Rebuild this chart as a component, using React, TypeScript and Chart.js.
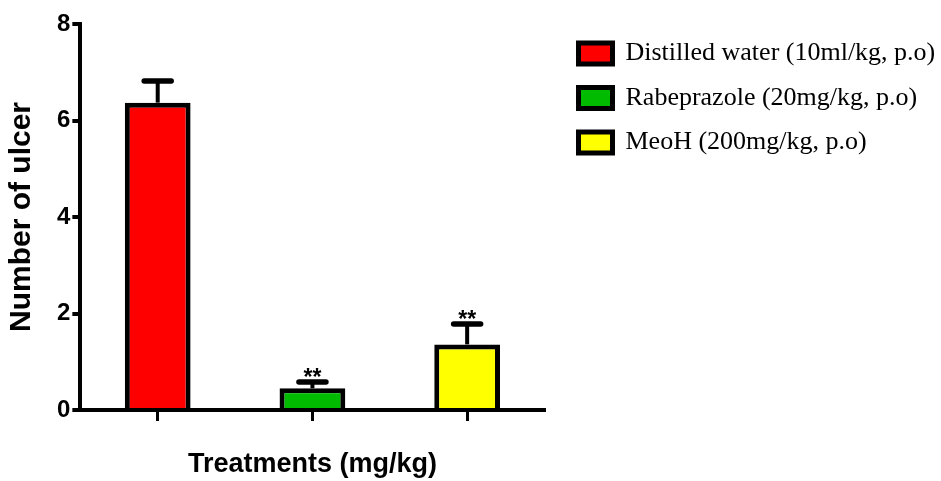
import React, { useEffect, useRef } from "react";
import { Chart, registerables } from "chart.js";

Chart.register(...registerables);

// ---- data ----
const categories = [
  "Distilled water (10ml/kg, p.o)",
  "Rabeprazole (20mg/kg, p.o)",
  "MeoH (200mg/kg, p.o)",
];
const ulcerMeans = [6.37, 0.45, 1.36];
const ulcerSem = [0.45, 0.13, 0.42];
const significance = ["", "**", "**"];
const barColors = ["#ff0000", "#00bb00", "#ffff00"];
const yTicks = [0, 2, 4, 6, 8];
const xTitle = "Treatments (mg/kg)";
const yTitle = "Number of ulcer";

const SANS = '"Liberation Sans", Arial, sans-serif';
const SERIF = '"Liberation Serif", "Times New Roman", serif';

const errorBarPlugin = {
  id: "errorBars",
  afterDatasetsDraw(chart: any) {
    const ctx = chart.ctx;
    const meta = chart.getDatasetMeta(0);
    const yScale = chart.scales.y;
    ctx.save();
    ctx.strokeStyle = "#000";
    ctx.fillStyle = "#000";
    meta.data.forEach((bar: any, i: number) => {
      const x = bar.x;
      const yBar = yScale.getPixelForValue(ulcerMeans[i]);
      const yTop = yScale.getPixelForValue(ulcerMeans[i] + ulcerSem[i]);
      ctx.lineWidth = 4;
      ctx.lineCap = "butt";
      ctx.beginPath();
      ctx.moveTo(x, yBar);
      ctx.lineTo(x, yTop);
      ctx.stroke();
      ctx.lineWidth = 5.5;
      ctx.lineCap = "round";
      ctx.beginPath();
      ctx.moveTo(x - 13.5, yTop);
      ctx.lineTo(x + 13.5, yTop);
      ctx.stroke();
      if (significance[i]) {
        ctx.font = `bold 23px ${SANS}`;
        ctx.textAlign = "center";
        ctx.textBaseline = "alphabetic";
        ctx.fillText(significance[i], x, yTop + 3);
      }
    });
    ctx.restore();
  },
};

export default function App() {
  const canvasRef = useRef<HTMLCanvasElement | null>(null);

  useEffect(() => {
    document.body.style.margin = "0";
    const canvas = canvasRef.current;
    if (!canvas) return;
    const chart = new Chart(canvas, {
      type: "bar",
      data: {
        labels: categories,
        datasets: [
          {
            data: ulcerMeans,
            backgroundColor: barColors,
            borderColor: "#000",
            borderWidth: 5,
            borderSkipped: "start",
            barPercentage: 0.425,
            categoryPercentage: 1,
            yAxisID: "y",
          },
        ],
      },
      options: {
        responsive: false,
        animation: false,
        devicePixelRatio: 1,
        layout: { padding: { top: 22, left: 0, right: 0, bottom: 0 } },
        plugins: {
          title: {
            display: true,
            text: "",
            position: "top",
            fullSize: false,
            padding: 0,
            font: { size: 2, lineHeight: 1 },
          },
          legend: {
            display: true,
            position: "right",
            align: "start",
            maxWidth: 381,
            labels: {
              font: { family: SERIF, size: 26 },
              color: "#000",
              boxWidth: 34,
              boxHeight: 21,
              padding: 18.5,
              generateLabels: () =>
                categories.map((c, i) => ({
                  text: c,
                  fillStyle: barColors[i],
                  strokeStyle: "#000",
                  lineWidth: 5,
                  fontColor: "#000",
                  hidden: false,
                  index: i,
                  datasetIndex: 0,
                })),
            },
          },
          tooltip: { enabled: false },
        },
        scales: {
          x: {
            type: "category",
            offset: true,
            grid: {
              display: true,
              drawOnChartArea: false,
              drawTicks: true,
              tickLength: 11,
              offset: false,
              color: "#000",
              lineWidth: 3,
            },
            border: { display: true, color: "#000", width: 4 },
            ticks: { display: false },
            title: {
              display: true,
              text: xTitle,
              color: "#000",
              font: { family: SANS, weight: "bold", size: 27, lineHeight: 1 },
              padding: { top: 30, bottom: 3 },
            },
          },
          y: {
            position: "left",
            min: 0,
            max: 8,
            afterBuildTicks: (axis: any) => {
              axis.ticks = yTicks.map((v) => ({ value: v }));
            },
            ticks: {
              font: { family: SANS, weight: "bold", size: 24 },
              color: "#000",
              padding: 2,
            },
            grid: {
              drawOnChartArea: false,
              drawTicks: true,
              tickLength: 8,
              color: "#000",
              lineWidth: 4,
            },
            border: { display: true, color: "#000", width: 4 },
            title: {
              display: true,
              text: yTitle,
              color: "#000",
              font: { family: SANS, weight: "bold", size: 30, lineHeight: 1 },
              padding: { top: 6.5, bottom: 18.5 },
            },
          },
          spacer: {
            type: "linear",
            position: "right",
            display: true,
            grid: { display: false, drawTicks: false },
            border: { display: false },
            ticks: { display: false },
            title: { display: true, text: "", padding: 0, font: { size: 15.5, lineHeight: 1 } },
          },
        },
      } as any,
      plugins: [errorBarPlugin],
    });
    return () => chart.destroy();
  }, []);

  return (
    <canvas
      ref={canvasRef}
      width={941}
      height={481}
      style={{ display: "block", width: 941, height: 481 }}
    />
  );
}
